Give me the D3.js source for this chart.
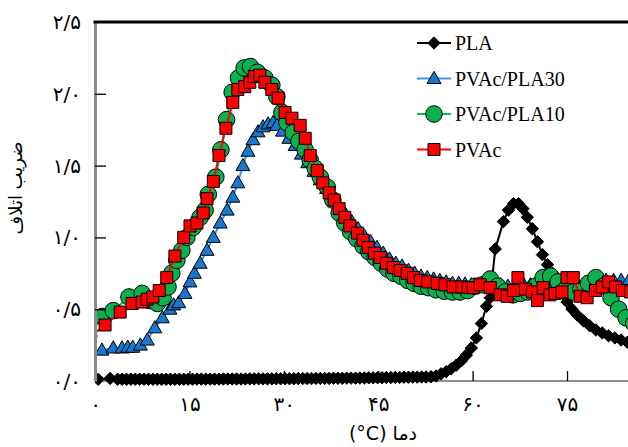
<!DOCTYPE html>
<html>
<head>
<meta charset="utf-8">
<script src="https://cdn.jsdelivr.net/npm/d3@7"></script>
<style>
  html, body { margin: 0; padding: 0; background: #fff; }
  svg { display: block; }
</style>
</head>
<body>
<div id="chart"></div>
<script>
// tick values
const xTicks = [0, 15, 30, 45, 60, 75];
const yTicks = [0, 0.5, 1.0, 1.5, 2.0, 2.5];

// PLA (black diamonds)
const plaT = [0.5, 2.4, 3.6, 4.3, 5.0, 5.7, 6.4, 7.1, 7.8, 8.5, 9.2, 9.9, 10.6, 11.3, 12.0, 12.7, 13.4, 14.1, 14.8, 15.5,
  16.2, 16.9, 17.6, 18.3, 19.0, 19.7, 20.4, 21.1, 21.8, 22.5, 23.2, 23.9, 24.6, 25.3, 26.0, 26.7, 27.4, 28.1, 28.8, 29.5,
  30.2, 30.9, 31.6, 32.3, 33.0, 33.7, 34.4, 35.1, 35.8, 36.5, 37.2, 37.9, 38.6, 39.3, 40.0, 40.7, 41.4, 42.1, 42.8, 43.5,
  44.2, 44.9, 45.6, 46.3, 47.0, 47.7, 48.4, 49.1, 49.8, 50.5, 51.2, 51.9, 52.6,
  53.4, 54.2, 55.0, 55.8, 56.6, 57.4, 58.2, 59.0, 59.8, 60.6, 61.4, 62.2, 62.8, 63.6, 64.9, 65.7, 66.5, 67.3, 68.0, 68.7,
  69.5, 70.3, 71.1, 71.9, 72.7, 73.5, 74.3, 75.0, 75.8, 76.6, 77.6, 78.6, 79.6, 80.6, 81.6, 82.6, 83.6, 84.6, 85.6];
const plaV = [0.012, 0.018, 0.012, 0.012, 0.012, 0.012, 0.012, 0.012, 0.012, 0.012, 0.012, 0.012, 0.012, 0.012, 0.012, 0.012, 0.012, 0.012, 0.012, 0.012,
  0.013, 0.013, 0.013, 0.013, 0.013, 0.013, 0.014, 0.014, 0.014, 0.014, 0.014, 0.014, 0.015, 0.015, 0.015, 0.015, 0.015, 0.015, 0.016, 0.016,
  0.016, 0.016, 0.016, 0.017, 0.017, 0.017, 0.017, 0.018, 0.018, 0.018, 0.018, 0.019, 0.019, 0.019, 0.02, 0.02, 0.02, 0.021, 0.021, 0.022,
  0.022, 0.023, 0.023, 0.024, 0.024, 0.025, 0.025, 0.026, 0.026, 0.027, 0.027, 0.028, 0.028,
  0.03, 0.035, 0.05, 0.065, 0.085, 0.11, 0.14, 0.18, 0.23, 0.30, 0.40, 0.52, 0.58, 0.92, 1.11, 1.19, 1.235, 1.235, 1.20, 1.14,
  1.06, 0.97, 0.88, 0.81, 0.75, 0.68, 0.61, 0.55, 0.50, 0.46, 0.42, 0.385, 0.355, 0.335, 0.315, 0.30, 0.285, 0.27, 0.26];

// PVAc/PLA30 (blue triangles)
const pla30T = [-1.0, 1.1, 2.9, 4.3, 5.2, 6.0, 7.2, 8.3, 9.5, 10.7, 11.9, 12.5, 13.3, 14.3, 15.1, 15.8, 16.7, 17.8, 18.8, 19.9,
  21.0, 21.9, 22.7, 23.5, 24.3, 25.1, 25.9, 26.7, 27.5, 28.3, 28.9, 29.8, 30.8, 31.8, 32.8, 33.8, 34.8, 35.8, 36.8, 37.8,
  38.8, 39.8, 40.8, 41.8, 42.8, 43.8, 44.8, 45.8, 46.8, 47.8, 48.8, 49.8, 50.8, 51.8, 52.8, 53.8, 54.8, 55.8, 56.8, 57.8,
  58.8, 59.8, 60.8, 62.0, 63.2, 64.4, 65.6, 66.8, 68.0, 69.2, 70.4, 71.6, 72.8, 74.0, 75.2, 76.4, 77.6, 78.8, 80.0, 81.2,
  82.4, 83.6, 84.8];
const pla30V = [0.19, 0.215, 0.23, 0.23, 0.235, 0.235, 0.25, 0.285, 0.37, 0.44, 0.50, 0.53, 0.545, 0.61, 0.69, 0.75, 0.82, 0.91, 1.00, 1.10,
  1.19, 1.28, 1.38, 1.50, 1.60, 1.68, 1.735, 1.77, 1.79, 1.80, 1.78, 1.74, 1.69, 1.64, 1.58, 1.52, 1.46, 1.40, 1.34, 1.28,
  1.22, 1.16, 1.11, 1.06, 1.01, 0.97, 0.93, 0.89, 0.85, 0.82, 0.80, 0.77, 0.75, 0.73, 0.72, 0.71, 0.70, 0.69, 0.68, 0.68,
  0.675, 0.67, 0.67, 0.67, 0.68, 0.67, 0.66, 0.67, 0.68, 0.67, 0.66, 0.67, 0.68, 0.68, 0.69, 0.68, 0.67, 0.68, 0.69, 0.70,
  0.70, 0.70, 0.70];

// PVAc/PLA10 (green circles)
const pla10T = [-1.0, 1.2, 2.9, 5.4, 7.5, 8.7, 9.9, 10.8, 11.6, 12.2, 13.0, 13.8, 14.6, 15.6, 16.7, 17.5, 18.0, 19.2, 20.0, 20.9,
  21.8, 22.8, 23.7, 24.7, 25.8, 27.0, 28.1, 28.9, 29.7, 30.5, 31.5, 32.4, 33.4, 34.2, 35.0, 35.8, 36.9, 37.8, 38.8, 39.7,
  40.6, 41.6, 42.6, 43.5, 44.5, 45.5, 46.5, 47.5, 48.6, 49.7, 50.7, 51.8, 53.0, 54.2, 55.5, 56.8, 58.0, 59.2, 60.4, 61.6,
  62.8, 64.0, 65.2, 66.4, 67.6, 68.8, 70.0, 71.2, 72.4, 73.6, 74.8, 76.0, 77.2, 78.4, 79.6, 80.8, 82.0, 83.2, 84.4, 85.6];
const pla10V = [0.31, 0.45, 0.49, 0.585, 0.61, 0.56, 0.54, 0.58, 0.655, 0.75, 0.84, 0.91, 1.00, 1.07, 1.14, 1.19, 1.30, 1.42, 1.61, 1.82,
  2.01, 2.11, 2.18, 2.19, 2.15, 2.11, 2.06, 1.98, 1.87, 1.80, 1.73, 1.67, 1.61, 1.54, 1.48, 1.42, 1.35, 1.26, 1.17, 1.10,
  1.04, 0.99, 0.94, 0.90, 0.86, 0.82, 0.78, 0.75, 0.73, 0.70, 0.68, 0.66, 0.65, 0.635, 0.625, 0.62, 0.62, 0.63, 0.66, 0.67,
  0.71, 0.66, 0.62, 0.60, 0.61, 0.62, 0.66, 0.72, 0.73, 0.69, 0.64, 0.62, 0.64, 0.68, 0.72, 0.66, 0.58, 0.50, 0.44, 0.40];

// PVAc (red squares)
const pvacT = [-1.0, 1.6, 4.0, 5.9, 7.5, 8.3, 9.2, 10.2, 11.4, 12.7, 14.1, 15.1, 16.2, 17.2, 17.8, 18.8, 19.7, 20.8, 21.9, 22.7,
  23.8, 24.6, 25.3, 26.2, 27.0, 28.1, 29.1, 30.2, 31.3, 32.6, 33.4, 34.2, 35.3, 36.2, 37.2, 38.0, 38.8, 39.7, 40.5, 41.7,
  42.6, 43.4, 44.4, 45.3, 46.3, 47.4, 48.5, 49.6, 50.6, 51.7, 52.9, 54.4, 55.6, 56.9, 58.3, 59.3, 60.1, 61.2, 62.8, 64.4,
  65.5, 66.5, 67.2, 68.4, 69.5, 70.3, 71.2, 72.3, 73.1, 74.2, 75.0, 76.0, 77.1, 78.2, 79.5, 80.6, 81.6, 82.7, 83.8, 85.1];
const pvacV = [0.30, 0.39, 0.48, 0.54, 0.55, 0.57, 0.585, 0.63, 0.72, 0.87, 1.00, 1.08, 1.10, 1.17, 1.27, 1.39, 1.57, 1.76, 1.94, 2.03,
  2.05, 2.08, 2.12, 2.13, 2.08, 2.03, 1.97, 1.87, 1.83, 1.78, 1.69, 1.57, 1.465, 1.38, 1.31, 1.26, 1.20, 1.14, 1.08, 1.03,
  0.98, 0.93, 0.89, 0.86, 0.82, 0.79, 0.77, 0.75, 0.72, 0.70, 0.69, 0.68, 0.67, 0.655, 0.655, 0.65, 0.65, 0.67, 0.65, 0.60,
  0.59, 0.63, 0.72, 0.64, 0.62, 0.56, 0.65, 0.60, 0.61, 0.62, 0.72, 0.72, 0.59, 0.58, 0.63, 0.655, 0.69, 0.655, 0.63, 0.62];

const seriesNames = ["PLA", "PVAc/PLA30", "PVAc/PLA10", "PVAc"];

const W = 628, H = 447;
const plotLeft = 95, plotTop = 22, plotBottom = 381;

const svg = d3.select("#chart").append("svg")
  .attr("width", W)
  .attr("height", H);

const x = d3.scaleLinear().domain([0, 75]).range([plotLeft, 567]);
const y = d3.scaleLinear().domain([0, 2.5]).range([plotBottom, plotTop]);

const faDigits = "۰۱۲۳۴۵۶۷۸۹";
const toFa = s => String(s).replace(/[0-9]/g, c => faDigits[+c]).replace(".", "/");

svg.append("defs").append("clipPath").attr("id", "plotClip")
  .append("rect").attr("x", plotLeft).attr("y", 0).attr("width", W - plotLeft + 20).attr("height", H);

// bottom axis line
svg.append("line")
  .attr("x1", plotLeft).attr("x2", W)
  .attr("y1", plotBottom).attr("y2", plotBottom)
  .attr("stroke", "#8c8c8c").attr("stroke-width", 2);

const xAxis = svg.append("g")
  .attr("transform", `translate(0,${plotBottom})`)
  .call(d3.axisBottom(x).tickValues(xTicks).tickSize(-10).tickSizeOuter(0).tickPadding(16).tickFormat(toFa));
xAxis.select(".domain").remove();
xAxis.selectAll(".tick line").attr("stroke", "#000").attr("stroke-width", 1.3);
xAxis.selectAll(".tick text").attr("font-family", "DejaVu Sans").attr("font-size", 20).attr("fill", "#000");

const plot = svg.append("g").attr("clip-path", "url(#plotClip)");

const styles = [
  { T: plaT, V: plaV, line: "#000", fill: "#000", shape: "diamond" },
  { T: pla30T, V: pla30V, line: "#3a95e8", fill: "#1a78cc", shape: "triangle" },
  { T: pla10T, V: pla10V, line: "#00c060", fill: "#0db04e", shape: "circle" },
  { T: pvacT, V: pvacV, line: "#ff0000", fill: "#ff0000", shape: "square" }
];

function markerPath(shape) {
  if (shape === "diamond") return "M0,-6.2L6.2,0L0,6.2L-6.2,0Z";
  if (shape === "triangle") return "M0,-7.2L7,5L-7,5Z";
  if (shape === "square") return "M-6,-6H6V6H-6Z";
  return d3.symbol(d3.symbolCircle, Math.PI * 8.3 * 8.3)();
}

const line = d3.line().x(d => x(d[0])).y(d => y(d[1]));

styles.forEach(s => {
  const pts = s.T.map((t, i) => [t, s.V[i]]);
  const g = plot.append("g");
  g.append("path")
    .datum(pts)
    .attr("d", line)
    .attr("fill", "none")
    .attr("stroke", s.line)
    .attr("stroke-width", 2);
  g.selectAll(".pt")
    .data(pts)
    .enter()
    .append("path")
    .attr("class", "pt")
    .attr("transform", d => `translate(${x(d[0])},${y(d[1])})`)
    .attr("d", markerPath(s.shape))
    .attr("fill", s.fill)
    .attr("stroke", "#000")
    .attr("stroke-width", 1);
});

// left axis
const yAxis = svg.append("g")
  .attr("transform", `translate(${plotLeft},0)`)
  .call(d3.axisLeft(y).tickValues(yTicks).tickSize(-11).tickSizeOuter(0).tickPadding(14)
    .tickFormat(d => toFa(d3.format(".1f")(d))));
yAxis.select(".domain").attr("stroke", "#8c8c8c").attr("stroke-width", 3);
yAxis.selectAll(".tick line").attr("stroke", "#000").attr("stroke-width", 1.3)
  .filter(d => d === 0 || d === 2.5).remove();
yAxis.selectAll(".tick text").attr("font-family", "DejaVu Sans").attr("font-size", 20).attr("fill", "#000");

// top frame line
svg.append("line")
  .attr("x1", plotLeft - 1.5).attr("x2", W)
  .attr("y1", plotTop).attr("y2", plotTop)
  .attr("stroke", "#000").attr("stroke-width", 3);

// axis titles
svg.append("text")
  .attr("transform", "translate(22,188) rotate(-90)")
  .attr("text-anchor", "middle")
  .attr("direction", "rtl")
  .attr("font-family", "DejaVu Sans")
  .attr("font-size", 18)
  .text("ضریب اتلاف");

svg.append("text")
  .attr("x", 383)
  .attr("y", 440)
  .attr("text-anchor", "middle")
  .attr("font-family", "DejaVu Sans")
  .attr("font-size", 19)
  .text("(°C) دما");

// legend
const legend = svg.append("g");
styles.forEach((s, i) => {
  const ly = 43 + i * 35.5;
  legend.append("line")
    .attr("x1", 417).attr("x2", 451)
    .attr("y1", ly).attr("y2", ly)
    .attr("stroke", s.line).attr("stroke-width", 2);
  legend.append("path")
    .attr("transform", `translate(434,${ly})`)
    .attr("d", markerPath(s.shape))
    .attr("fill", s.fill)
    .attr("stroke", "#000")
    .attr("stroke-width", 1);
  legend.append("text")
    .attr("x", 455)
    .attr("y", ly)
    .attr("dy", "0.35em")
    .attr("font-family", "Liberation Serif")
    .attr("font-size", 20)
    .text(seriesNames[i]);
});
</script>
</body>
</html>
